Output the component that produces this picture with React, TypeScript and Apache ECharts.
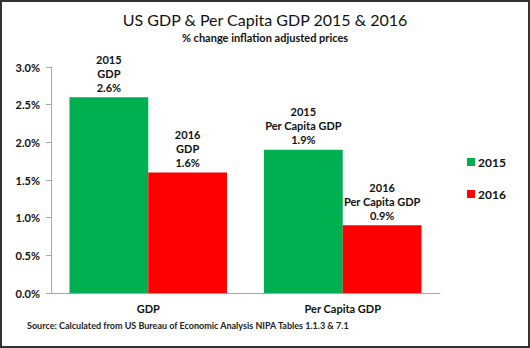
import React, { useEffect, useRef } from "react";
import * as echarts from "echarts";

const categories = ["GDP", "Per Capita GDP"];
const years = ["2015", "2016"];
const values2015 = [2.6, 1.9];
const values2016 = [1.6, 0.9];
const yTicks = [0, 0.5, 1.0, 1.5, 2.0, 2.5, 3.0];
const colors = ["#00B050", "#FF0000"];
const FONT = "Lato, 'Open Sans', sans-serif";

export default function App() {
  const ref = useRef<HTMLDivElement>(null);
  useEffect(() => {
    if (!ref.current) return;
    const chart = echarts.init(ref.current, undefined, { renderer: "svg" });
    const makeSeries = (name: string, vals: number[], color: string) => ({
      name,
      type: "bar",
      data: vals,
      barCategoryGap: "19%",
      barGap: "0%",
      itemStyle: { color },
      label: {
        show: true,
        position: "top",
        distance: 3,
        fontFamily: FONT,
        fontSize: 11,
        fontWeight: "bold",
        lineHeight: 14,
        color: "#111",
        align: "center",
        formatter: (p: any) => `${name}\n${categories[p.dataIndex]}\n${p.value.toFixed(1)}%`,
      },
    });
    chart.setOption({
      animation: false,
      backgroundColor: "transparent",
      title: {
        text: "US GDP & Per Capita GDP 2015 & 2016",
        subtext: "% change inflation adjusted prices",
        left: "center",
        top: 6,
        itemGap: 5,
        textStyle: { fontFamily: FONT, fontSize: 16, fontWeight: "normal", color: "#111" },
        subtextStyle: { fontFamily: FONT, fontSize: 11, fontWeight: "bold", color: "#111" },
      },
      legend: {
        orient: "vertical",
        left: 462,
        top: 151,
        itemWidth: 8,
        itemHeight: 8,
        itemGap: 20,
        icon: "rect",
        textStyle: { fontFamily: FONT, fontSize: 12, fontWeight: "bold", color: "#111", padding: [0, 0, 0, -2] },
        data: years,
      },
      grid: { left: 51, right: 90, top: 67, bottom: 55 },
      xAxis: {
        type: "category",
        data: categories,
        axisLine: { lineStyle: { color: "#a6a6a6" } },
        axisTick: { show: false },
        axisLabel: { fontFamily: FONT, fontSize: 11, fontWeight: "bold", color: "#111", margin: 10 },
      },
      yAxis: {
        type: "value",
        min: 0,
        max: 3,
        interval: 0.5,
        axisLine: { show: true, lineStyle: { color: "#a6a6a6" } },
        axisTick: { show: true, length: 5, lineStyle: { color: "#a6a6a6" } },
        splitLine: { show: false },
        axisLabel: {
          fontFamily: FONT,
          fontSize: 11,
          fontWeight: "bold",
          color: "#111",
          margin: 11,
          formatter: (v: number) => (yTicks.includes(v) ? v.toFixed(1) + "%" : ""),
        },
      },
      series: [makeSeries(years[0], values2015, colors[0]), makeSeries(years[1], values2016, colors[1])],
      graphic: [
        {
          type: "text",
          left: 27,
          top: 321,
          style: {
            text: "Source: Calculated from US Bureau of Economic Analysis NIPA Tables 1.1.3 & 7.1",
            fontFamily: FONT,
            fontSize: 9,
            fontWeight: "bold",
            fill: "#222",
          },
        },
      ],
    });
    return () => chart.dispose();
  }, []);
  return (
    <div
      style={{
        position: "fixed",
        left: 0,
        top: 0,
        width: 530,
        height: 348,
        boxSizing: "border-box",
        border: "2px solid #333",
        background: "#fff",
      }}
    >
      <div ref={ref} style={{ position: "absolute", left: -2, top: -2, width: 530, height: 348 }} />
    </div>
  );
}
